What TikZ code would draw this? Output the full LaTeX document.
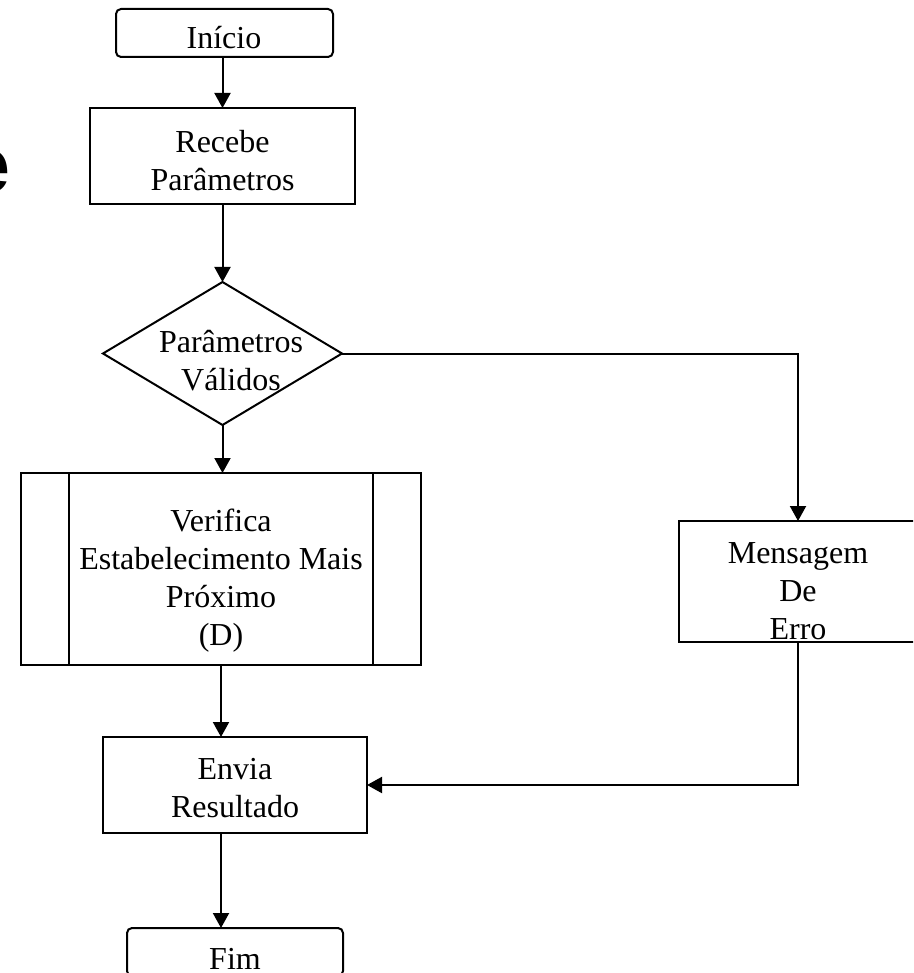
\documentclass[tikz,border=0pt]{standalone}
\usepackage{fontspec}
\setmainfont{Liberation Serif}
\newfontfamily\headfont{Liberation Sans}
\usetikzlibrary{shapes.geometric,arrows.meta}
\begin{document}
\begin{tikzpicture}[x=1pt,y=-1pt,
  shape line/.style={draw, line width=2pt, inner sep=0pt, outer sep=0pt},
  procbox/.style={shape line, rectangle, minimum width=#1},
  termbox/.style={shape line, rectangle, rounded corners=5pt, minimum width=#1, minimum height=48pt},
  decbox/.style={shape line, diamond, minimum width=239pt, minimum height=143pt},
  label text/.style={font=\fontsize{32}{38}\selectfont, align=center, inner sep=0pt, anchor=base},
  flow/.style={line width=2pt, -{Triangle[length=15pt,width=16pt]}}]

\useasboundingbox (0,0) rectangle (913,973);
\clip (0,0) rectangle (913,973);

% heading letter cut by the left edge
\node[font=\headfont\bfseries\fontsize{79}{79}\selectfont, anchor=base west, inner sep=0pt] (headletter) at (-34,193) {e};

% shapes
\node[termbox=217pt] (start) at (224.5,33) {};
\node[procbox=265pt, minimum height=96pt] (recv) at (222.5,156) {};
\node[decbox] (check) at (222.5,353.5) {};
\node[procbox=400pt, minimum height=192pt] (verif) at (221,569) {};
\draw[line width=2pt] ([xshift=48pt]verif.north west) -- ([xshift=48pt]verif.south west);
\draw[line width=2pt] ([xshift=-48pt]verif.north east) -- ([xshift=-48pt]verif.south east);
\node[procbox=238pt, minimum height=121pt] (err) at (798,581.5) {};
\node[procbox=264pt, minimum height=96pt] (send) at (235,785) {};
\node[termbox=216pt] (stop) at (235,952) {};

% connectors
\draw[flow] (recv.north |- start.south) -- (recv.north);
\draw[flow] (recv.south) -- (check.north);
\draw[flow] (check.east) -- (check.east -| err.north) -- (err.north);
\draw[flow] (check.south) -- (check.south |- verif.north);
\draw[flow] (verif.south) -- (verif.south |- send.north);
\draw[flow] (send.south -| verif.south) -- (stop.north -| verif.south);
\draw[flow] (err.south) -- (err.south |- send.east) -- (send.east);

% texts (anchored on the baseline of the last line)
\node[label text] (tstart) at (224,49) {Início};
\node[label text] (trecv) at (222.5,191) {Recebe\\Parâmetros};
\node[label text] (tcheck) at (231,390) {Parâmetros\\Válidos};
\node[label text] (tverif) at (221,645) {Verifica\\Estabelecimento Mais\\Próximo\\(D)};
\node[label text] (terr) at (798,639) {Mensagem\\De\\Erro};
\node[label text] (tsend) at (235,817) {Envia\\Resultado};
\node[label text] (tstop) at (235,969.5) {Fim};
\end{tikzpicture}
\end{document}
